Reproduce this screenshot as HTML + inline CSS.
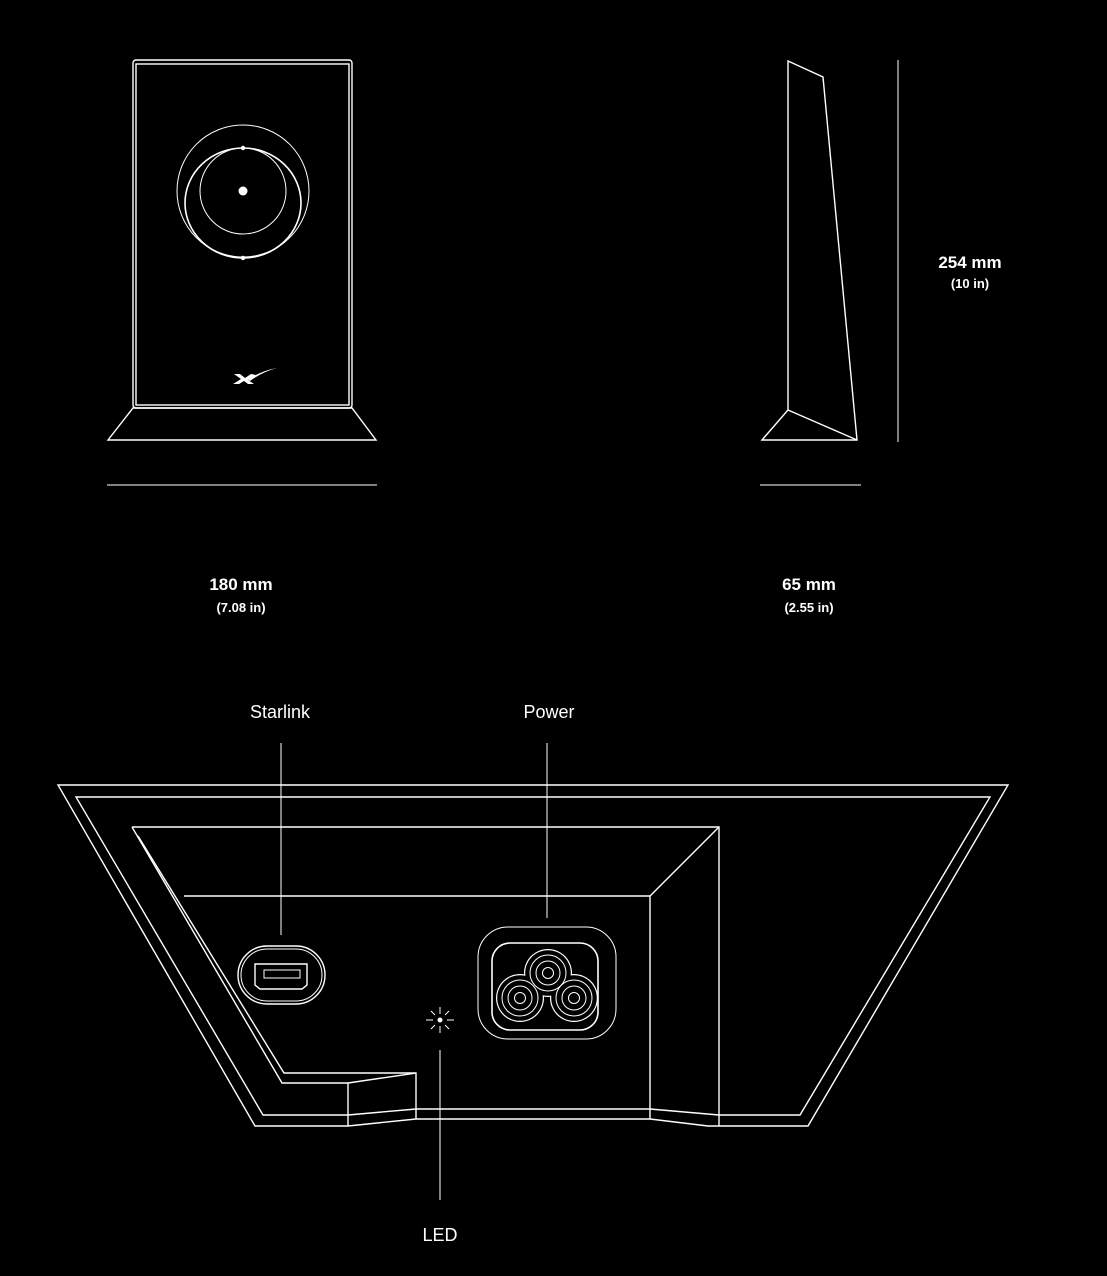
<!DOCTYPE html>
<html><head><style>
html,body{margin:0;padding:0;background:#000;}
svg{display:block}
text{font-family:"Liberation Sans",sans-serif;fill:#fff;text-anchor:middle}
</style></head><body>
<svg width="1107" height="1276" viewBox="0 0 1107 1276" xmlns="http://www.w3.org/2000/svg">
<g fill="none" stroke="#fff" stroke-width="1.4">
 <rect x="133" y="60" width="219" height="348" rx="3"/>
 <rect x="136" y="64" width="213" height="341"/>
 <circle cx="243" cy="191" r="66" stroke-width="1"/>
 <ellipse cx="243" cy="203" rx="58" ry="55" stroke-width="1.6"/>
 <circle cx="243" cy="191" r="43" stroke-width="1"/>
 <path d="M133 408 L352 408 L376 440 L108 440 Z"/>
 <line x1="107" y1="485" x2="377" y2="485" stroke-width="1"/>
 <path d="M788 61 L823 77 L857 440 L762 440 L788 410 Z"/>
 <path d="M788 410 L857 440"/>
 <line x1="898" y1="60" x2="898" y2="442" stroke-width="1"/>
 <line x1="760" y1="485" x2="861" y2="485" stroke-width="1"/>
 <path d="M58 785 L1008 785 L808 1126 L708 1126 L650 1119 L416 1119 L348 1126 L255 1126 Z"/>
 <path d="M76 797 L990 797 L800 1115 L719 1115 L650 1109 L416 1109 L348 1115 L263 1115 Z"/>
 <path d="M132 827 L719 827 L719 1126"/>
 <path d="M132 827 L282 1083 L348 1083 L416 1073 L416 1119"/>
 <path d="M138 836 L284 1073 L348 1073 L416 1073"/>
 <path d="M348 1083 L348 1126"/>
 <path d="M184 896 L650 896 L719 827"/>
 <path d="M650 896 L650 1119"/>
 <rect x="238" y="946" width="87" height="58" rx="29"/>
 <rect x="241" y="949" width="81" height="52" rx="26" stroke-width="1"/>
 <path d="M255 964 L307 964 L307 985 L302 989 L260 989 L255 985 Z"/>
 <rect x="264" y="970" width="36" height="8" stroke-width="1"/>
 <rect x="478" y="927" width="138" height="112" rx="30" stroke-width="1"/>
 <rect x="492" y="943" width="106" height="87" rx="18" stroke-width="1.6"/>
 <g stroke-width="1">
 <line x1="281" y1="743" x2="281" y2="935"/>
 <line x1="547" y1="743" x2="547" y2="918"/>
 <line x1="440" y1="1050" x2="440" y2="1200"/>
 <line x1="440" y1="1007" x2="440" y2="1014"/>
 <line x1="440" y1="1026" x2="440" y2="1033"/>
 <line x1="426" y1="1020" x2="433" y2="1020"/>
 <line x1="447" y1="1020" x2="454" y2="1020"/>
 <line x1="431" y1="1011" x2="435" y2="1015"/>
 <line x1="445" y1="1025" x2="449" y2="1029"/>
 <line x1="449" y1="1011" x2="445" y2="1015"/>
 <line x1="435" y1="1025" x2="431" y2="1029"/>
 </g>
</g>
<g fill="#fff">
 <circle cx="548" cy="973" r="24"/><circle cx="520" cy="998" r="24"/><circle cx="574" cy="998" r="24"/>
</g>
<g fill="#000">
 <circle cx="548" cy="973" r="22.8"/><circle cx="520" cy="998" r="22.8"/><circle cx="574" cy="998" r="22.8"/>
</g>
<g fill="none" stroke="#fff" stroke-width="1">
 <circle cx="548" cy="973" r="18"/><circle cx="548" cy="973" r="12"/><circle cx="548" cy="973" r="5.5"/>
 <circle cx="520" cy="998" r="18"/><circle cx="520" cy="998" r="12"/><circle cx="520" cy="998" r="5.5"/>
 <circle cx="574" cy="998" r="18"/><circle cx="574" cy="998" r="12"/><circle cx="574" cy="998" r="5.5"/>
</g>
<g fill="#fff">
 <circle cx="243" cy="191" r="4.5"/>
 <circle cx="243" cy="148" r="2.2"/>
 <circle cx="243" cy="258" r="2.2"/>
 <circle cx="440" cy="1020" r="2.5"/>
 <path d="M234 374 L240 374 L245 378 L251 374 L256 375 L248 380 L254 384 L248 384 L244 381 L239 384 L233 384 L241 379 Z"/>
 <path d="M248 380 Q260 371 277 368 Q262 372 250 381 Z"/>
</g>
<text x="970" y="268" font-size="17" font-weight="bold">254 mm</text>
<text x="970" y="288" font-size="13" font-weight="bold">(10 in)</text>
<text x="241" y="590" font-size="17" font-weight="bold">180 mm</text>
<text x="241" y="612" font-size="13" font-weight="bold">(7.08 in)</text>
<text x="809" y="590" font-size="17" font-weight="bold">65 mm</text>
<text x="809" y="612" font-size="13" font-weight="bold">(2.55 in)</text>
<text x="280" y="718" font-size="18">Starlink</text>
<text x="549" y="718" font-size="18">Power</text>
<text x="440" y="1241" font-size="18">LED</text>
</svg>
</body></html>
